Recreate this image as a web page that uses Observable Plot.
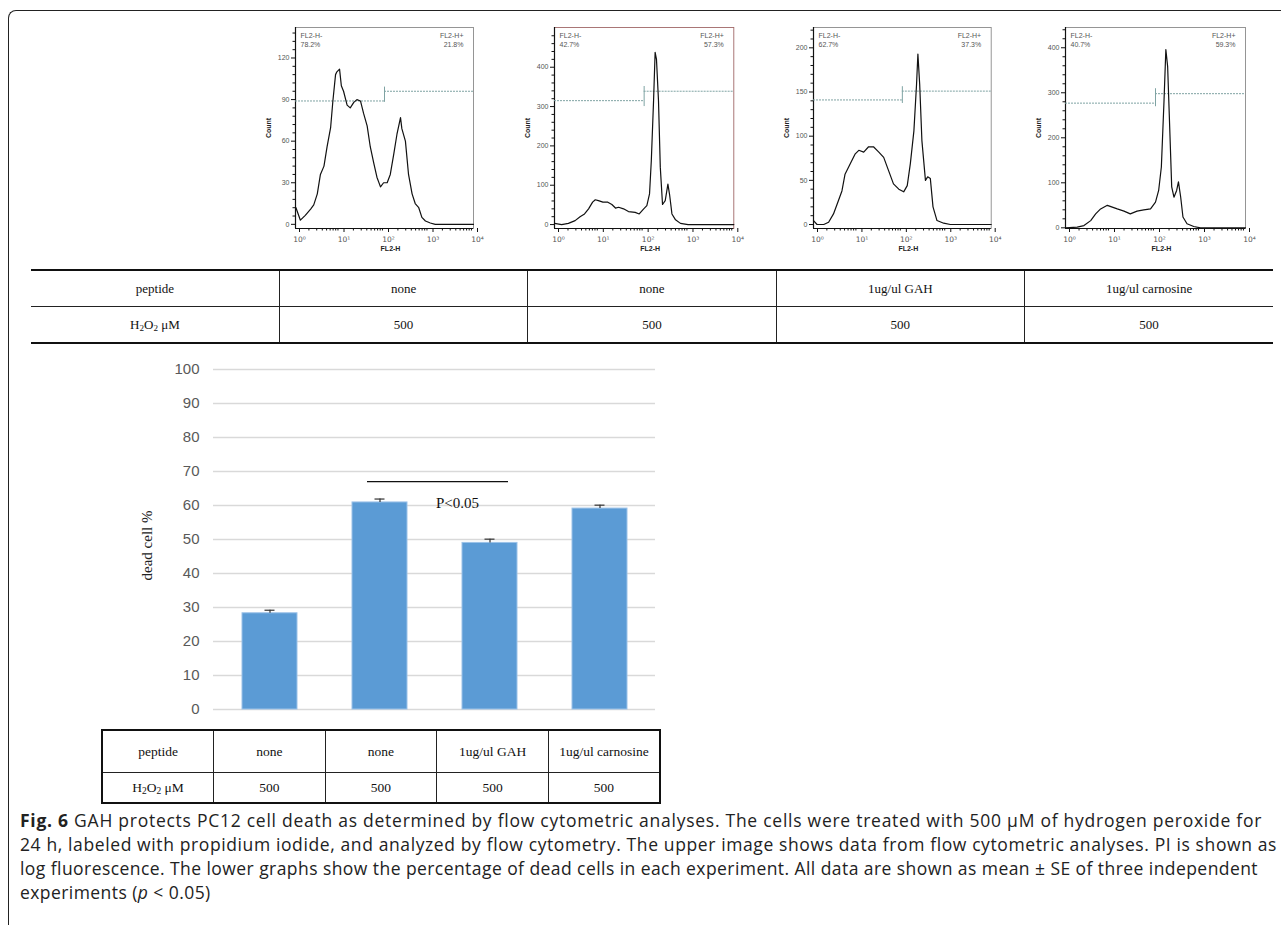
<!DOCTYPE html>
<html><head><meta charset="utf-8">
<script src="https://cdn.jsdelivr.net/npm/d3@7"></script>
<script src="https://cdn.jsdelivr.net/npm/@observablehq/plot@0.6"></script>
<style>
html,body{margin:0;padding:0;background:#fff;width:1281px;height:925px;overflow:hidden;}
#root{position:relative;width:1281px;height:925px;overflow:hidden;}
#border{position:absolute;left:8px;top:10px;width:1320px;height:1000px;border-left:1.6px solid #222;border-top:1.6px solid #222;border-top-left-radius:8px;box-sizing:border-box;}
.panel{position:absolute;}
table.t{position:absolute;border-collapse:collapse;font-family:"Liberation Serif","Times New Roman",serif;color:#111;table-layout:fixed;}
table.t td{text-align:center;padding:0;}
#tTop{left:31px;top:269px;width:1242px;font-size:13px;border-top:2px solid #111;border-bottom:2px solid #111;}
#tTop td{height:35px;}
#tTop td + td{border-left:1px solid #222;}
#tTop tr:first-child td{border-bottom:1px solid #222;}
#tBot{left:101px;top:729px;width:560px;font-size:13.5px;border:2px solid #111;}
#tBot td{border:1px solid #222;}
#tBot tr:first-child td{height:41px;}
#tBot tr:last-child td{height:29px;}
sub{font-size:70%;vertical-align:-0.25em;line-height:0;}
#caption{position:absolute;left:20px;top:808px;font-family:"Open Sans",sans-serif;font-size:17.5px;color:#222;line-height:24px;white-space:nowrap;}
#caption div{display:block;}
#caption span{display:inline-block;}
</style>
</head><body>
<div id="root">
<div id="border"></div>
<div id="caption"></div>
</div>
<script>
// ---------- flow cytometry histograms (log10 FL2-H position, count) ----------
const h1LogFL = [0.01,0.11,0.22,0.34,0.41,0.49,0.56,0.64,0.71,0.79,0.84,0.90,0.93,0.99,1.03,1.08,1.16,1.23,1.31,1.38,1.46,1.53,1.61,1.68,1.76,1.83,1.91,1.98,2.06,2.13,2.21,2.28,2.36,2.39,2.47,2.54,2.62,2.69,2.77,2.84,2.92,3.03,3.14,4.0];
const h1Count = [12,3,6.5,11,14,22,36,42,56,70,89,108,110,112,100,96,86,84,88,90,89,80,71,56,44,34,27,30,30,36,51,65,77,69,60,36,22,15,12,5,2.4,1,0,0];
const h2LogFL = [0,0.16,0.31,0.46,0.57,0.67,0.76,0.85,0.91,0.98,1.08,1.19,1.28,1.36,1.43,1.54,1.65,1.80,1.89,1.99,2.06,2.12,2.16,2.21,2.245,2.275,2.32,2.36,2.41,2.47,2.53,2.57,2.62,2.70,2.81,2.98,4];
const h2Count = [3,0,3,10,20,27,40,57,63,61,57,57,51,42,44,40,33,31,27,40,48,78,163,315,438,420,315,146,51,61,103,74,27,12,3,0,0];
const h3LogFL = [0,0.08,0.23,0.34,0.45,0.56,0.64,0.71,0.83,0.94,1.02,1.13,1.24,1.35,1.47,1.58,1.69,1.80,1.92,2.03,2.11,2.18,2.26,2.32,2.35,2.39,2.44,2.52,2.57,2.63,2.69,2.78,2.93,3.08,4];
const h3Count = [4.5,0,0,2.6,12,27,38,57,69,80,84,82,88,88,82,76,61,46,40,37,44,69,106,159,193,159,95,50,54,52,20,4.5,1.5,0,0];
const h4LogFL = [0,0.26,0.41,0.56,0.67,0.78,0.93,1.04,1.15,1.30,1.44,1.59,1.74,1.89,2.0,2.07,2.13,2.19,2.23,2.27,2.32,2.36,2.41,2.47,2.51,2.56,2.61,2.70,2.85,3.0,4];
const h4Count = [0,1.5,5,16,31,42,50,46,42,37,31,37,40,42,57,83,135,284,396,358,210,91,68,83,102,68,24,9,3,0,0];

const negPct = ["78.2%","42.7%","62.7%","40.7%"];
const posPct = ["21.8%","57.3%","37.3%","59.3%"];
const gateNeg = [89, 315, 141, 277];
const gatePos = [96, 339, 151, 298];
const gateLo = [88, 300, 137, 269];
const gateHi = [99, 351, 156, 309];
const gateAt = [2, 2, 2, 2];
const yMajorStep = [30, 100, 50, 100];
const yTop = [120, 400, 200, 400];
const decadeLabels = ["10⁰","10¹","10²","10³","10⁴"];

// ---------- tables ----------
const rowHeads = ["peptide", "H<sub>2</sub>O<sub>2</sub> μM"];
const peptideRow = ["none","none","1ug/ul GAH","1ug/ul carnosine"];
const h2o2Row = [500,500,500,500];

// ---------- bar chart ----------
const groups = ["g1","g2","g3","g4"];
const deadPct = [28.3, 60.9, 49.0, 59.1];
const deadSE = [0.9, 1.0, 1.1, 1.0];
const sigFrom = "g2", sigTo = "g3", sigY = 67, sigLabel = "P<0.05", sigLabelY = 60.6;
const yTicksBar = [0,10,20,30,40,50,60,70,80,90,100];

// ---------- caption ----------
const captionLines = [
  '<b>Fig. 6</b> GAH protects PC12 cell death as determined by flow cytometric analyses. The cells were treated with 500 μM of hydrogen peroxide for',
  '24 h, labeled with propidium iodide, and analyzed by flow cytometry. The upper image shows data from flow cytometric analyses. PI is shown as',
  'log fluorescence. The lower graphs show the percentage of dead cells in each experiment. All data are shown as mean ± SE of three independent',
  'experiments (<i>p</i> &lt; 0.05)'
];
const captionLineWidths = [1242, 1257, 1238, null];

const root = document.getElementById("root");

// histogram panels
const hX = [h1LogFL, h2LogFL, h3LogFL, h4LogFL];
const hY = [h1Count, h2Count, h3Count, h4Count];
const panelLeft = [255, 514, 773, 1025];
const panelMR = [22, 20.7, 22.3, 20];
const yDomains = [[-3,142],[-10,501],[-4.5,223],[-1.5,445]];
const frameColors = ["#8a8a8a","#a06868","#8a8a8a","#8a8a8a"];

const minorX = [];
for (let n = 0; n < 4; n++) for (let k = 2; k <= 9; k++) minorX.push(n + Math.log10(k));

for (let p = 0; p < 4; p++) {
  const data = hX[p].map((v, i) => ({lx: v, c: hY[p][i]}));
  const step = yMajorStep[p];
  const majorY = d3.range(0, yTop[p] + 1e-9, step);
  const minorY = d3.range(0, yDomains[p][1], step / 5).filter(v => Math.abs(v / step - Math.round(v / step)) > 1e-6);
  const gateStyle = {stroke: "#7fa3a3", strokeWidth: 1, strokeDasharray: "2,1"};
  const chart = Plot.plot({
    width: 240, height: 250,
    marginLeft: 40, marginRight: panelMR[p], marginTop: 12, marginBottom: 37,
    x: {domain: [0, 4]},
    y: {domain: yDomains[p]},
    style: {fontFamily: "'Liberation Sans', Arial, sans-serif", fontSize: "7px", color: "#555", background: "transparent"},
    marks: [
      Plot.frame({stroke: frameColors[p], strokeWidth: 0.9}),
      Plot.axisY({ticks: majorY, tickSize: 4, tickPadding: 2, label: null, stroke: "#111", fill: "#555"}),
      Plot.axisY({ticks: minorY, tickSize: 2.5, tickFormat: () => "", label: null, stroke: "#111"}),
      Plot.axisX({ticks: [0,1,2,3,4], tickSize: 4, tickPadding: 4, tickFormat: d => decadeLabels[d], label: null, stroke: "#111", fill: "#555", dx: 4, fontFamily: "'DejaVu Sans', sans-serif", fontSize: 7.5}),
      Plot.axisX({ticks: minorX, tickSize: 2.5, tickFormat: () => "", label: null, stroke: "#111"}),
      Plot.ruleX([0], {stroke: "#111", strokeWidth: 1.2}),
      Plot.ruleY([yDomains[p][0]], {stroke: "#111", strokeWidth: 1.2}),
      Plot.ruleY([gateNeg[p]], {x1: 0, x2: gateAt[p], ...gateStyle}),
      Plot.ruleY([gatePos[p]], {x1: gateAt[p], x2: 4, ...gateStyle}),
      Plot.ruleX([gateAt[p]], {y1: gateLo[p], y2: gateHi[p], stroke: "#7fa3a3", strokeWidth: 1}),
      Plot.line(data, {x: "lx", y: "c", stroke: "#111", strokeWidth: 1.2}),
      Plot.text(["FL2-H-"], {frameAnchor: "top-left", dx: 5, dy: 6, textAnchor: "start", fill: "#555"}),
      Plot.text([negPct[p]], {frameAnchor: "top-left", dx: 5, dy: 15, textAnchor: "start", fill: "#555"}),
      Plot.text(["FL2-H+"], {frameAnchor: "top-right", dx: -10, dy: 6, textAnchor: "end", fill: "#555"}),
      Plot.text([posPct[p]], {frameAnchor: "top-right", dx: -10, dy: 15, textAnchor: "end", fill: "#555"}),
      Plot.text(["Count"], {frameAnchor: "left", textAnchor: "middle", rotate: -90, dx: -27, dy: 0, fontWeight: "bold", fill: "#222"}),
      Plot.text(["FL2-H"], {frameAnchor: "bottom", dx: 6, dy: 22, fontWeight: "bold", fill: "#222"})
    ]
  });
  const div = document.createElement("div");
  div.className = "panel";
  div.style.left = panelLeft[p] + "px";
  div.style.top = "15px";
  div.appendChild(chart);
  root.appendChild(div);
}

// tables
function makeTable(id) {
  const t = document.createElement("table");
  t.className = "t"; t.id = id;
  const rows = [peptideRow, h2o2Row];
  rows.forEach((r, i) => {
    const tr = document.createElement("tr");
    const th = document.createElement("td");
    th.innerHTML = rowHeads[i];
    tr.appendChild(th);
    r.forEach(v => { const td = document.createElement("td"); td.textContent = v; tr.appendChild(td); });
    t.appendChild(tr);
  });
  root.appendChild(t);
}
makeTable("tTop");
makeTable("tBot");

// bar chart
const bars = groups.map((g, i) => ({g, v: deadPct[i], se: deadSE[i]}));
const serif = "'Liberation Serif', 'Times New Roman', serif";
const barChart = Plot.plot({
  width: 570, height: 365,
  marginLeft: 113, marginRight: 15, marginTop: 14, marginBottom: 11,
  x: {domain: groups, paddingInner: 0.5, paddingOuter: 0.25, axis: null},
  y: {domain: [0, 100], axis: null},
  style: {fontFamily: "'Liberation Sans', Arial, sans-serif", fontSize: "15px", color: "#595959", background: "transparent"},
  marks: [
    Plot.gridY(yTicksBar, {stroke: "#d9d9d9", strokeOpacity: 1, strokeWidth: 1.3}),
    Plot.axisY({ticks: yTicksBar, tickSize: 0, tickPadding: 14, label: null, fill: "#595959"}),
    Plot.barY(bars, {x: "g", y: "v", fill: "#5b9bd5", stroke: "#9cc2e8", strokeWidth: 1}),
    Plot.ruleX(bars, {x: "g", y1: "v", y2: d => d.v + d.se, stroke: "#333", strokeWidth: 1.2}),
    Plot.tickY(bars, {x: "g", y: d => d.v + d.se, stroke: "#333", strokeWidth: 1.2, insetLeft: 22.5, insetRight: 22.5}),
    Plot.ruleY([sigY], {x1: () => sigFrom, x2: () => sigTo, stroke: "#111", strokeWidth: 1.2, insetLeft: 15, insetRight: 9}),
    Plot.text([sigLabel], {x: () => sigTo, y: () => sigLabelY, textAnchor: "end", dx: -11, fill: "#111", fontFamily: serif, fontSize: 15}),
    Plot.text(["dead cell %"], {frameAnchor: "left", textAnchor: "middle", rotate: -90, dx: -66, dy: 6, fill: "#222", fontFamily: serif, fontSize: 15})
  ]
});
const bdiv = document.createElement("div");
bdiv.className = "panel";
bdiv.style.left = "100px";
bdiv.style.top = "355px";
bdiv.appendChild(barChart);
root.appendChild(bdiv);

// caption: each line fitted to the width it has in the reference
const cap = document.getElementById("caption");
cap.innerHTML = captionLines.map(l => "<div><span>" + l + "</span></div>").join("");
const spans = cap.querySelectorAll("span");
let lastLs = 0;
spans.forEach((s, i) => {
  const target = captionLineWidths[i];
  if (target == null) { s.style.letterSpacing = lastLs.toFixed(3) + "px"; return; }
  const w = s.getBoundingClientRect().width;
  lastLs = (target - w) / s.textContent.length;
  s.style.letterSpacing = lastLs.toFixed(3) + "px";
});
</script>
</body></html>
